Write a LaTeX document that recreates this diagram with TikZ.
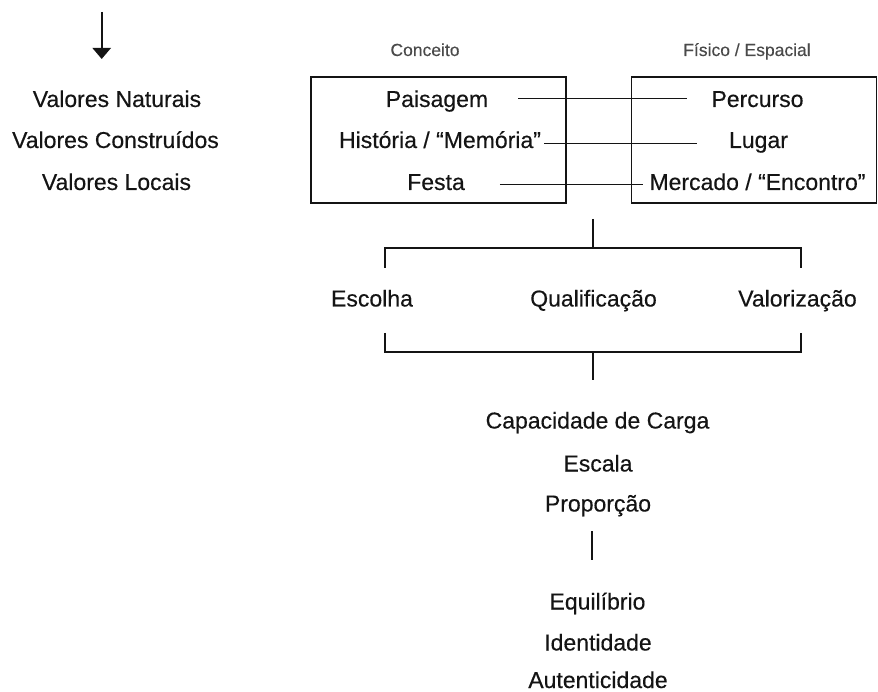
\documentclass[tikz,border=0pt]{standalone}
\usepackage{fontspec}
\setmainfont{Liberation Sans}[FakeBold=0.3]
\usetikzlibrary{arrows.meta}
\definecolor{ink}{HTML}{141414}
\definecolor{headgray}{HTML}{4A4A4A}
\tikzset{
  lbl/.style={font=\fontsize{23}{25}\selectfont\addfontfeature{FakeBold=0.35}, text=ink, inner xsep=4pt, inner ysep=0pt, text height=16.5pt, text depth=0pt, anchor=base},
  head/.style={font=\fontsize{17.5}{20}\selectfont, text=headgray, inner sep=0pt, text height=12.5pt, text depth=0pt, anchor=base},
  frame/.style={draw=ink, line width=1.5pt, inner sep=0pt},
  conn/.style={draw=ink, line width=1.3pt},
}
\begin{document}
\begin{tikzpicture}[x=1pt,y=-1pt]
\useasboundingbox (0,0) rectangle (878,692);
% top-left arrow
\coordinate (a1) at (101.7,12);
\coordinate (a2) at (101.7,59);
\draw[ink, line width=2.4pt, -{Triangle[width=18pt,length=11pt]}] (a1) -- (a2);
% left column
\node[lbl] (vn) at (117,107) {Valores Naturais};
\node[lbl] (vc) at (115.5,148) {Valores Construídos};
\node[lbl] (vl) at (116.5,190) {Valores Locais};
% headers
\node[head] (hc) at (425,56) {Conceito};
\node[head] (hf) at (747,56) {Físico / Espacial};
% boxes
\node[frame, minimum width=255pt, minimum height=126pt] (lbox) at (438.5,140) {};
\node[frame, minimum width=245pt, minimum height=126pt] (rbox) at (754,140) {};
% box contents
\node[lbl, inner xsep=30pt, text height=17pt] (pais) at (437,107) {Paisagem};
\node[lbl, inner xsep=3pt, text depth=7.5pt] (hist) at (440,148) {História / “Memória”};
\node[lbl, inner xsep=35pt, text depth=5.5pt] (fest) at (436,190) {Festa};
\node[lbl, inner xsep=24pt, text height=17pt] (perc) at (757.5,107) {Percurso};
\node[lbl, inner xsep=32pt, text depth=7.5pt] (luga) at (758.5,148) {Lugar};
\node[lbl, inner xsep=6pt, text depth=5.5pt] (merc) at (757.5,190) {Mercado / “Encontro”};
\draw[conn] (pais.east) -- (perc.west);
\draw[conn] (hist.east) -- (luga.west);
\draw[conn] (fest.east) -- (merc.west);
% upper bracket
\coordinate (s1) at (593,219);
\coordinate (s2) at (593,248);
\coordinate (bl1) at (385,248);
\coordinate (br1) at (801,248);
\coordinate (bl1d) at (385,268);
\coordinate (br1d) at (801,268);
\draw[conn] (s1) -- (s2);
\draw[conn] (bl1d) -- (bl1) -- (br1) -- (br1d);
% middle row
\node[lbl] (esc) at (372,306.5) {Escolha};
\node[lbl] (qua) at (593.5,306.5) {Qualificação};
\node[lbl] (val) at (797.5,306.5) {Valorização};
% lower bracket
\coordinate (bl2u) at (385,333);
\coordinate (br2u) at (801,333);
\coordinate (bl2) at (385,352);
\coordinate (br2) at (801,352);
\coordinate (s3) at (593,352);
\coordinate (s4) at (593,380);
\draw[conn] (bl2u) -- (bl2) -- (br2) -- (br2u);
\draw[conn] (s3) -- (s4);
% lower column
\node[lbl] (cap) at (597.5,428.5) {Capacidade de Carga};
\node[lbl] (esca) at (598,471.5) {Escala};
\node[lbl] (prop) at (598,511.5) {Proporção};
\coordinate (v1) at (592,531);
\coordinate (v2) at (592,560);
\draw[conn] (v1) -- (v2);
\node[lbl] (equi) at (597.5,609.5) {Equilíbrio};
\node[lbl] (iden) at (598,650.5) {Identidade};
\node[lbl] (aute) at (598,688) {Autenticidade};
\end{tikzpicture}
\end{document}
